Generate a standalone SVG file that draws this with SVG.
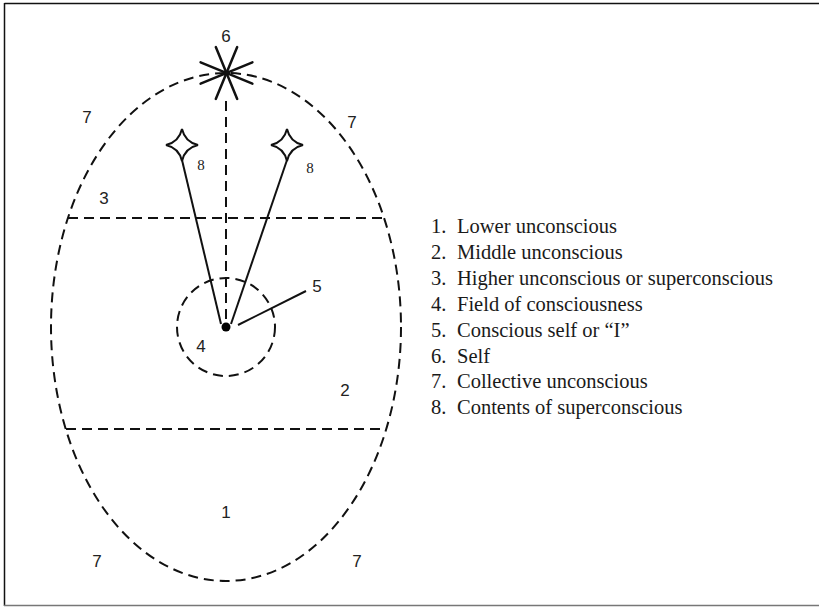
<svg xmlns="http://www.w3.org/2000/svg" width="819" height="607" viewBox="0 0 819 607">
<style>
.dash{fill:none;stroke:#111;stroke-width:2;stroke-dasharray:10 6}
.solid{fill:none;stroke:#111;stroke-width:2}
.lbl{font-family:"Liberation Sans",Arial,sans-serif;font-size:17px;fill:#222;text-anchor:middle}
.lbl8{font-family:"Liberation Serif","Times New Roman",serif;font-size:15px;fill:#222;text-anchor:middle}
.leg{font-family:"Liberation Serif","Times New Roman",serif;font-size:20.5px;fill:#1a1a1a}
</style>
<defs>
<path id="star4" d="M0,-16 Q3,-3 16,0 Q3,3 0,16 Q-3,3 -16,0 Q-3,-3 0,-16 Z" fill="#fff" stroke="#111" stroke-width="2"/>
</defs>
<rect width="819" height="607" fill="#fff"/>
<g id="frame">
<line x1="4.5" y1="3.5" x2="819" y2="3.5" stroke="#111" stroke-width="1.5"/>
<line x1="4.5" y1="3" x2="4.5" y2="606" stroke="#111" stroke-width="1.5"/>
<line x1="4" y1="605.5" x2="819" y2="605.5" stroke="#777" stroke-width="1.5"/>
</g>
<g id="collective">
<ellipse class="dash" cx="226" cy="327" rx="175" ry="254"/>
</g>
<g id="connectors">
<line class="dash" x1="68" y1="218" x2="384" y2="218"/>
<line class="dash" x1="66" y1="429" x2="386" y2="429"/>
<line class="dash" x1="226" y1="101" x2="226" y2="322"/>
<line class="solid" x1="182" y1="160" x2="221" y2="324"/>
<line class="solid" x1="287" y1="160" x2="231" y2="324"/>
<line class="solid" x1="238" y1="325" x2="306" y2="291"/>
</g>
<g id="field">
<circle class="dash" cx="226" cy="327" r="49"/>
</g>
<g id="i-self">
<circle cx="226" cy="327" r="4.5" fill="#000"/>
</g>
<g id="self" stroke="#111" stroke-width="2.5" stroke-linecap="round">
<line x1="215.8" y1="47.1" x2="237.2" y2="98.9"/>
<line x1="237.2" y1="47.1" x2="215.8" y2="98.9"/>
<line x1="200.6" y1="62.3" x2="252.4" y2="83.7"/>
<line x1="200.6" y1="83.7" x2="252.4" y2="62.3"/>
</g>
<g id="star-left"><use href="#star4" x="182" y="145"/></g>
<g id="star-right"><use href="#star4" x="287" y="145"/></g>
<g id="labels">
<text class="lbl" x="226" y="42">6</text>
<text class="lbl" x="87" y="123">7</text>
<text class="lbl" x="352" y="128">7</text>
<text class="lbl" x="104" y="204">3</text>
<text class="lbl8" x="201" y="170">8</text>
<text class="lbl8" x="310" y="173">8</text>
<text class="lbl" x="317" y="292">5</text>
<text class="lbl" x="201" y="352">4</text>
<text class="lbl" x="345" y="396">2</text>
<text class="lbl" x="226" y="518">1</text>
<text class="lbl" x="97" y="567">7</text>
<text class="lbl" x="357" y="567">7</text>
</g>
<g id="legend" class="leg">
<text x="431" y="233">1.</text><text x="457" y="233">Lower unconscious</text>
<text x="431" y="259">2.</text><text x="457" y="259">Middle unconscious</text>
<text x="431" y="285">3.</text><text x="457" y="285">Higher unconscious or superconscious</text>
<text x="431" y="311">4.</text><text x="457" y="311">Field of consciousness</text>
<text x="431" y="337">5.</text><text x="457" y="337">Conscious self or “I”</text>
<text x="431" y="362.5">6.</text><text x="457" y="362.5">Self</text>
<text x="431" y="388">7.</text><text x="457" y="388">Collective unconscious</text>
<text x="431" y="414">8.</text><text x="457" y="414">Contents of superconscious</text>
</g>
</svg>
